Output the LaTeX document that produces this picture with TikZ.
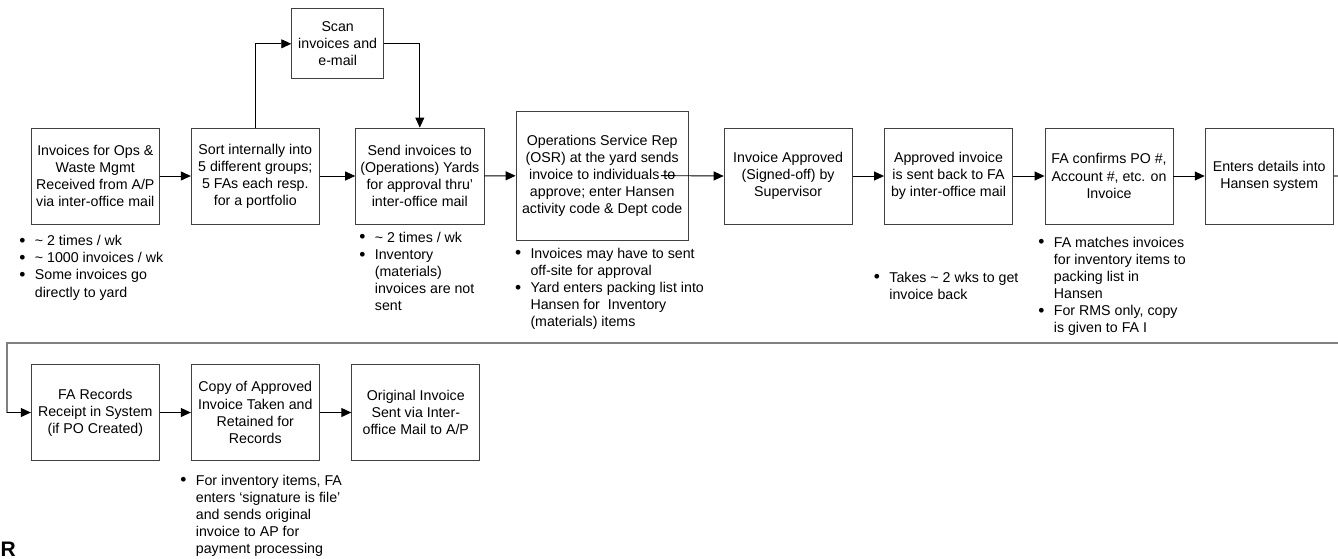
\documentclass[tikz,border=0pt]{standalone}
\usepackage{fontspec}
\setmainfont{Liberation Sans}
\usetikzlibrary{arrows.meta}
\newcommand\fsz{\fontsize{14.2}{17.1}\selectfont}
\newcommand\notelist[1]{\begin{tabular}[t]{@{}p{15.5pt}@{}l@{}}#1\end{tabular}}
\newcommand\bul{\raisebox{-0.6pt}{\fontsize{17.5}{17.1}\selectfont\textbullet}}
\tikzset{
  box/.style={draw=black!75, line width=0.9pt, inner sep=0pt, align=center, font=\fsz,
              minimum width=128pt, minimum height=96pt},
  arr/.style={-{Triangle[length=10pt,width=9pt]}, line width=0.9pt, draw=black},
  ret/.style={line width=1.6pt, draw=black!50},
  note/.style={anchor=base west, inner sep=0pt, font=\fsz},
}
\begin{document}
\begin{tikzpicture}[x=1pt,y=-1pt]
\useasboundingbox (0,0) rectangle (1338,558);
\clip (0,0) rectangle (1338,558);
% row 1
\node[box] (b1) at (95.3,176) {Invoices for Ops \&\\Waste Mgmt\\Received from A/P\\via inter-office mail};
\node[box] (b2) at (255.3,176) {Sort internally into\\5 different groups;\\5 FAs each resp.\\for a portfolio};
\node[box, minimum width=92pt, minimum height=70pt] (scan) at (337.7,43.8) {Scan\\invoices and\\e-mail};
\node[box, minimum width=128.3pt] (b3) at (419.8,176) {Send invoices to\\(Operations) Yards\\for approval thru’\\inter-office mail};
\node[box, minimum width=172.3pt, minimum height=129.3pt] (osr) at (602.2,175.6) {Operations Service Rep\\(OSR) at the yard sends\\invoice to individuals to\\approve; enter Hansen\\activity code \& Dept code};
\node[box] (appr) at (788.1,176) {Invoice Approved\\(Signed-off) by\\Supervisor};
\node[box] (back) at (948.5,176) {Approved invoice\\is sent back to FA\\by inter-office mail};
\node[box] (conf) at (1109,176) {FA confirms PO \#,\\Account \#, etc. on\\Invoice};
\node[box] (enter) at (1269.2,176) {Enters details into\\Hansen system};
% row 2
\node[box] (rec) at (95.3,412.5) {FA Records\\Receipt in System\\(if PO Created)};
\node[box] (copy) at (255.3,412.5) {Copy of Approved\\Invoice Taken and\\Retained for\\Records};
\node[box] (orig) at (415.8,412.5) {Original Invoice\\Sent via Inter-\\office Mail to A/P};
% connectors
\draw[arr] (b1) -- (b2);
\draw[arr] (b2.north) |- (scan.west);
\draw[arr] (scan.east) -| (b3.north);
\draw[arr] (b2) -- (b3);
\draw[arr] (b3) -- (osr);
\coordinate (osrout) at ([xshift=-28pt]osr.east);
\draw[arr] (osrout) -- (appr.west);
\draw[arr] (appr) -- (back);
\draw[arr] (back) -- (conf);
\draw[arr] (conf) -- (enter);
\coordinate (rA) at (1346,176);
\coordinate (rB) at (1346,342.7);
\coordinate (rC) at (6.7,342.7);
\coordinate (rD) at (6.7,412.5);
\draw[ret] (enter.east) -- (rA) -- (rB) -- (rC) -- (rD);
\draw[arr] (rD) -- (rec.west);
\draw[arr] (rec) -- (copy);
\draw[arr] (copy) -- (orig);
% notes
\node[note] (n1) at (19.2,245.7) {\notelist{\bul & \textasciitilde\ 2 times / wk\\ \bul & \textasciitilde\ 1000 invoices / wk\\ \bul & Some invoices go\\ & directly to yard}};
\node[note] (n3) at (359.2,242.3) {\notelist{\bul & \textasciitilde\ 2 times / wk\\ \bul & Inventory\\ & (materials)\\ & invoices are not\\ & sent}};
\node[note] (nosr) at (514.8,258.3) {\notelist{\bul & Invoices may have to sent\\ & off-site for approval\\ \bul & Yard enters packing list into\\ & Hansen for\ \ Inventory\\ & (materials) items}};
\node[note] (nback) at (873.7,282.3) {\notelist{\bul & Takes \textasciitilde\ 2 wks to get\\ & invoice back}};
\node[note] (nconf) at (1038.2,247.3) {\notelist{\bul & FA matches invoices\\ & for inventory items to\\ & packing list in\\ & Hansen\\ \bul & For RMS only, copy\\ & is given to FA I}};
\node[note] (ncopy) at (180.2,485.3) {\notelist{\bul & For inventory items, FA\\ & enters ‘signature is file’\\ & and sends original\\ & invoice to AP for\\ & payment processing}};
\node[anchor=base west, inner sep=0pt, font=\fontsize{21}{21}\selectfont\bfseries] (R) at (0.5,556) {R};
\end{tikzpicture}
\end{document}
